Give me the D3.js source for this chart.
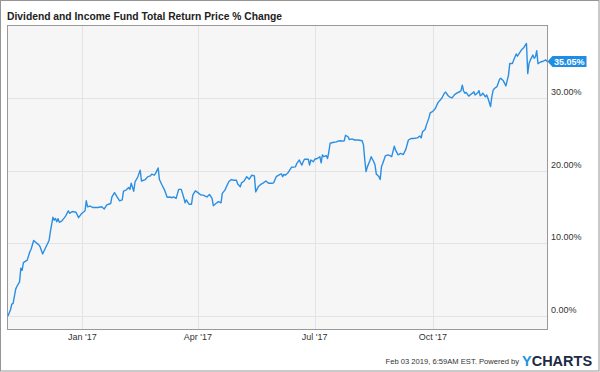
<!DOCTYPE html>
<html><head><meta charset="utf-8">
<script src="https://cdn.jsdelivr.net/npm/d3@7"></script>
<style>body{margin:0;background:#fff}svg{display:block}text{font-family:"Liberation Sans",Arial,sans-serif}</style>
</head><body>
<script>
const title = "Dividend and Income Fund Total Return Price % Change";
const dates = ["2016-11-04","2016-11-06","2016-11-07","2016-11-08","2016-11-10","2016-11-11","2016-11-13","2016-11-14","2016-11-15","2016-11-16","2016-11-19","2016-11-21","2016-11-22","2016-11-24","2016-11-28","2016-11-29","2016-12-01","2016-12-03","2016-12-06","2016-12-07","2016-12-09","2016-12-10","2016-12-11","2016-12-12","2016-12-13","2016-12-14","2016-12-16","2016-12-18","2016-12-19","2016-12-21","2016-12-22","2016-12-24","2016-12-27","2016-12-29","2016-12-31",
"2017-01-03","2017-01-04","2017-01-05","2017-01-07","2017-01-09","2017-01-13","2017-01-16","2017-01-18","2017-01-20","2017-01-23","2017-01-24","2017-01-26","2017-01-28","2017-01-30","2017-02-01","2017-02-02","2017-02-04","2017-02-06","2017-02-07","2017-02-08","2017-02-10","2017-02-11","2017-02-13","2017-02-15","2017-02-16","2017-02-19","2017-02-21","2017-02-23","2017-02-24","2017-02-26","2017-02-27",
"2017-03-01","2017-03-02","2017-03-04","2017-03-06","2017-03-08","2017-03-10","2017-03-12","2017-03-13","2017-03-15","2017-03-17","2017-03-19","2017-03-21","2017-03-22","2017-03-23","2017-03-25","2017-03-27","2017-03-28","2017-03-30",
"2017-04-01","2017-04-03","2017-04-05","2017-04-08","2017-04-10","2017-04-12","2017-04-13","2017-04-15","2017-04-17","2017-04-19","2017-04-20","2017-04-22","2017-04-25","2017-04-27","2017-04-29",
"2017-05-01","2017-05-02","2017-05-04","2017-05-05","2017-05-07","2017-05-09","2017-05-11","2017-05-13","2017-05-15","2017-05-16","2017-05-18","2017-05-20","2017-05-22","2017-05-24","2017-05-26","2017-05-29","2017-05-30",
"2017-06-01","2017-06-03","2017-06-05","2017-06-06","2017-06-07","2017-06-08","2017-06-10","2017-06-13","2017-06-16","2017-06-17","2017-06-19","2017-06-20","2017-06-21","2017-06-22","2017-06-23","2017-06-26","2017-06-27","2017-06-28","2017-06-30",
"2017-07-01","2017-07-03","2017-07-05","2017-07-06","2017-07-07","2017-07-08","2017-07-10","2017-07-11","2017-07-12","2017-07-13","2017-07-15","2017-07-18","2017-07-19","2017-07-21","2017-07-23","2017-07-24","2017-07-25","2017-07-27","2017-07-28","2017-07-30",
"2017-08-01","2017-08-04","2017-08-07","2017-08-08","2017-08-09","2017-08-10","2017-08-11","2017-08-13","2017-08-14","2017-08-16","2017-08-17","2017-08-18","2017-08-19","2017-08-20","2017-08-21","2017-08-22","2017-08-23","2017-08-25","2017-08-27","2017-08-29","2017-08-30",
"2017-09-01","2017-09-02","2017-09-04","2017-09-06","2017-09-08","2017-09-10","2017-09-12","2017-09-14","2017-09-16","2017-09-19","2017-09-21","2017-09-22","2017-09-23","2017-09-25","2017-09-26","2017-09-28","2017-09-29",
"2017-10-01","2017-10-03","2017-10-05","2017-10-08","2017-10-10","2017-10-11","2017-10-13","2017-10-14","2017-10-16","2017-10-18","2017-10-20","2017-10-22","2017-10-23","2017-10-24","2017-10-25","2017-10-26","2017-10-27","2017-10-29","2017-10-31",
"2017-11-01","2017-11-02","2017-11-03","2017-11-05","2017-11-06","2017-11-07","2017-11-08","2017-11-09","2017-11-11","2017-11-12","2017-11-13","2017-11-15","2017-11-16","2017-11-17","2017-11-18","2017-11-20","2017-11-22","2017-11-23","2017-11-25","2017-11-26","2017-11-27","2017-11-29","2017-11-30",
"2017-12-02","2017-12-03","2017-12-05","2017-12-06","2017-12-07","2017-12-09","2017-12-11","2017-12-13","2017-12-14","2017-12-15","2017-12-16","2017-12-18","2017-12-19","2017-12-20","2017-12-21","2017-12-22","2017-12-24","2017-12-26","2017-12-28","2017-12-29"];
const values = [0.0,0.9,1.65,1.75,3.7,4.1,4.7,6.6,6.3,7.35,7.7,8.85,9.2,10.4,9.8,9.55,8.55,9.3,10.4,11.6,13.6,13.2,13.45,13.0,13.4,12.9,13.1,13.55,13.8,14.5,14.15,14.4,14.3,13.55,14.05,
14.5,15.9,15.05,15.15,14.95,14.95,15.05,14.75,15.3,15.5,16.4,17.0,16.4,15.85,16.0,17.2,17.35,17.7,17.45,18.3,17.2,18.5,19.1,20.1,18.6,18.8,19.2,19.3,19.55,19.4,19.65,
20.4,18.8,18.05,17.35,16.35,16.4,16.3,16.4,16.2,17.45,17.45,16.3,15.6,16.0,15.4,15.4,16.65,17.25,
17.0,16.7,16.65,16.4,16.75,16.2,15.2,15.5,15.75,15.6,16.9,17.35,18.5,18.8,18.7,
18.7,18.2,17.8,18.35,18.6,19.2,18.85,19.4,19.3,17.1,17.8,18.15,18.35,18.6,18.3,18.3,18.35,
19.2,19.4,19.6,19.2,19.5,19.4,19.7,20.5,20.55,21.0,21.5,21.1,20.8,21.25,21.6,21.6,20.8,21.5,21.25,
21.6,21.7,21.95,21.1,22.2,21.95,22.1,21.7,22.6,23.8,23.9,24.0,24.1,24.15,24.1,24.15,24.9,24.7,24.3,24.4,
24.25,24.25,24.15,23.55,21.5,19.9,20.55,21.4,21.95,21.25,20.8,19.55,19.4,19.2,18.8,20.55,21.0,22.05,22.2,22.05,21.95,
23.4,22.85,22.2,22.4,22.25,22.95,24.25,24.45,24.45,24.55,24.8,24.55,25.4,25.7,26.3,27.3,28.0,
28.2,28.6,29.4,30.0,30.7,30.85,30.35,30.2,30.05,30.5,30.75,30.9,31.05,31.8,31.0,30.7,30.8,30.3,30.6,
30.7,30.9,30.45,30.75,31.05,30.35,30.45,30.7,30.2,30.45,30.0,28.85,30.2,31.1,31.35,31.6,32.6,32.75,32.4,32.05,31.7,33.2,34.8,
34.8,35.25,36.1,35.8,36.1,36.65,37.0,37.55,33.4,34.8,35.25,35.95,35.5,35.7,36.55,34.75,35.0,35.1,35.3,35.05];
const yTicks = [0, 10, 20, 30];
const xTickDates = ["2017-01-01","2017-04-01","2017-07-01","2017-10-01"];
const xTickLabels = ["Jan '17","Apr '17","Jul '17","Oct '17"];
const lastLabel = "35.05%";
const footerText = "Feb 03 2019, 6:59AM EST.  Powered by";

const W = 600, H = 372;
const parse = d3.timeParse("%Y-%m-%d");
const data = dates.map((d, i) => ({date: parse(d), value: values[i]}));
const plot = {l: 7.5, r: 547.5, t: 25.5, b: 329.5};

const svg = d3.select("body").append("svg").attr("width", W).attr("height", H);
svg.append("rect").attr("x", 0.5).attr("y", 0.5).attr("width", 598.5).attr("height", 370.5)
  .attr("fill", "#fff").attr("stroke", "#959595");

const x = d3.scaleTime().domain([parse("2016-11-04"), parse("2017-12-29")]).range([8, 547]);
const y = d3.scaleLinear().domain([0, 40]).range([316, 25.7]);

svg.append("rect").attr("x", plot.l).attr("y", plot.t).attr("width", plot.r - plot.l).attr("height", plot.b - plot.t)
  .attr("fill", "#f6f6f6");

const g = svg.append("g");
g.selectAll("line.h").data(yTicks).join("line")
  .attr("x1", plot.l).attr("x2", plot.r)
  .attr("y1", d => Math.round(y(d)) + 0.5).attr("y2", d => Math.round(y(d)) + 0.5)
  .attr("stroke", "#e3e3e3").attr("stroke-width", 1);
g.selectAll("line.v").data(xTickDates).join("line")
  .attr("y1", plot.t).attr("y2", plot.b)
  .attr("x1", d => Math.round(x(parse(d))) + 0.5).attr("x2", d => Math.round(x(parse(d))) + 0.5)
  .attr("stroke", "#e3e3e3").attr("stroke-width", 1);

svg.append("rect").attr("x", plot.l).attr("y", plot.t).attr("width", plot.r - plot.l).attr("height", plot.b - plot.t)
  .attr("fill", "none").attr("stroke", "#999");

const line = d3.line().x(d => x(d.date)).y(d => y(d.value));
svg.append("path").datum(data).attr("d", line).attr("fill", "none")
  .attr("stroke", "#2a8fe4").attr("stroke-width", 1.4).attr("stroke-linejoin", "round");

// right axis labels
svg.selectAll("text.yl").data(yTicks).join("text")
  .attr("x", 551).attr("y", d => y(d) - 3)
  .attr("font-size", 9).attr("fill", "#333")
  .text(d => d3.format(".2f")(d) + "%");

// bottom axis labels
svg.selectAll("text.xl").data(xTickDates).join("text")
  .attr("x", d => x(parse(d))).attr("y", 340)
  .attr("text-anchor", "middle").attr("font-size", 9).attr("fill", "#333")
  .text((d, i) => xTickLabels[i]);

// title
svg.append("text").attr("x", 7).attr("y", 20).attr("font-size", 10.3).attr("font-weight", "bold")
  .attr("fill", "#222").text(title);

// last value flag
const last = data[data.length - 1];
const ly = y(last.value);
const lx = plot.r;
svg.append("path")
  .attr("d", `M${lx},${ly} L${lx + 5},${ly - 5.5} L${lx + 39},${ly - 5.5} L${lx + 39},${ly + 5.5} L${lx + 5},${ly + 5.5} Z`)
  .attr("fill", "#1f8de3");
svg.append("text").attr("x", lx + 6.5).attr("y", ly + 3.3).attr("font-size", 9).attr("font-weight", "bold")
  .attr("fill", "#fff").text(lastLabel);

// footer
svg.append("text").attr("x", 519).attr("y", 363.8).attr("text-anchor", "end").attr("font-size", 7.6)
  .attr("fill", "#333").text(footerText);
const logo = svg.append("text").attr("x", 522).attr("y", 365.5).attr("font-size", 14.5).attr("font-weight", "bold");
logo.append("tspan").attr("fill", "#1a93e3").text("Y");
logo.append("tspan").attr("fill", "#1c2a46").text("CHARTS");
</script>
</body></html>
